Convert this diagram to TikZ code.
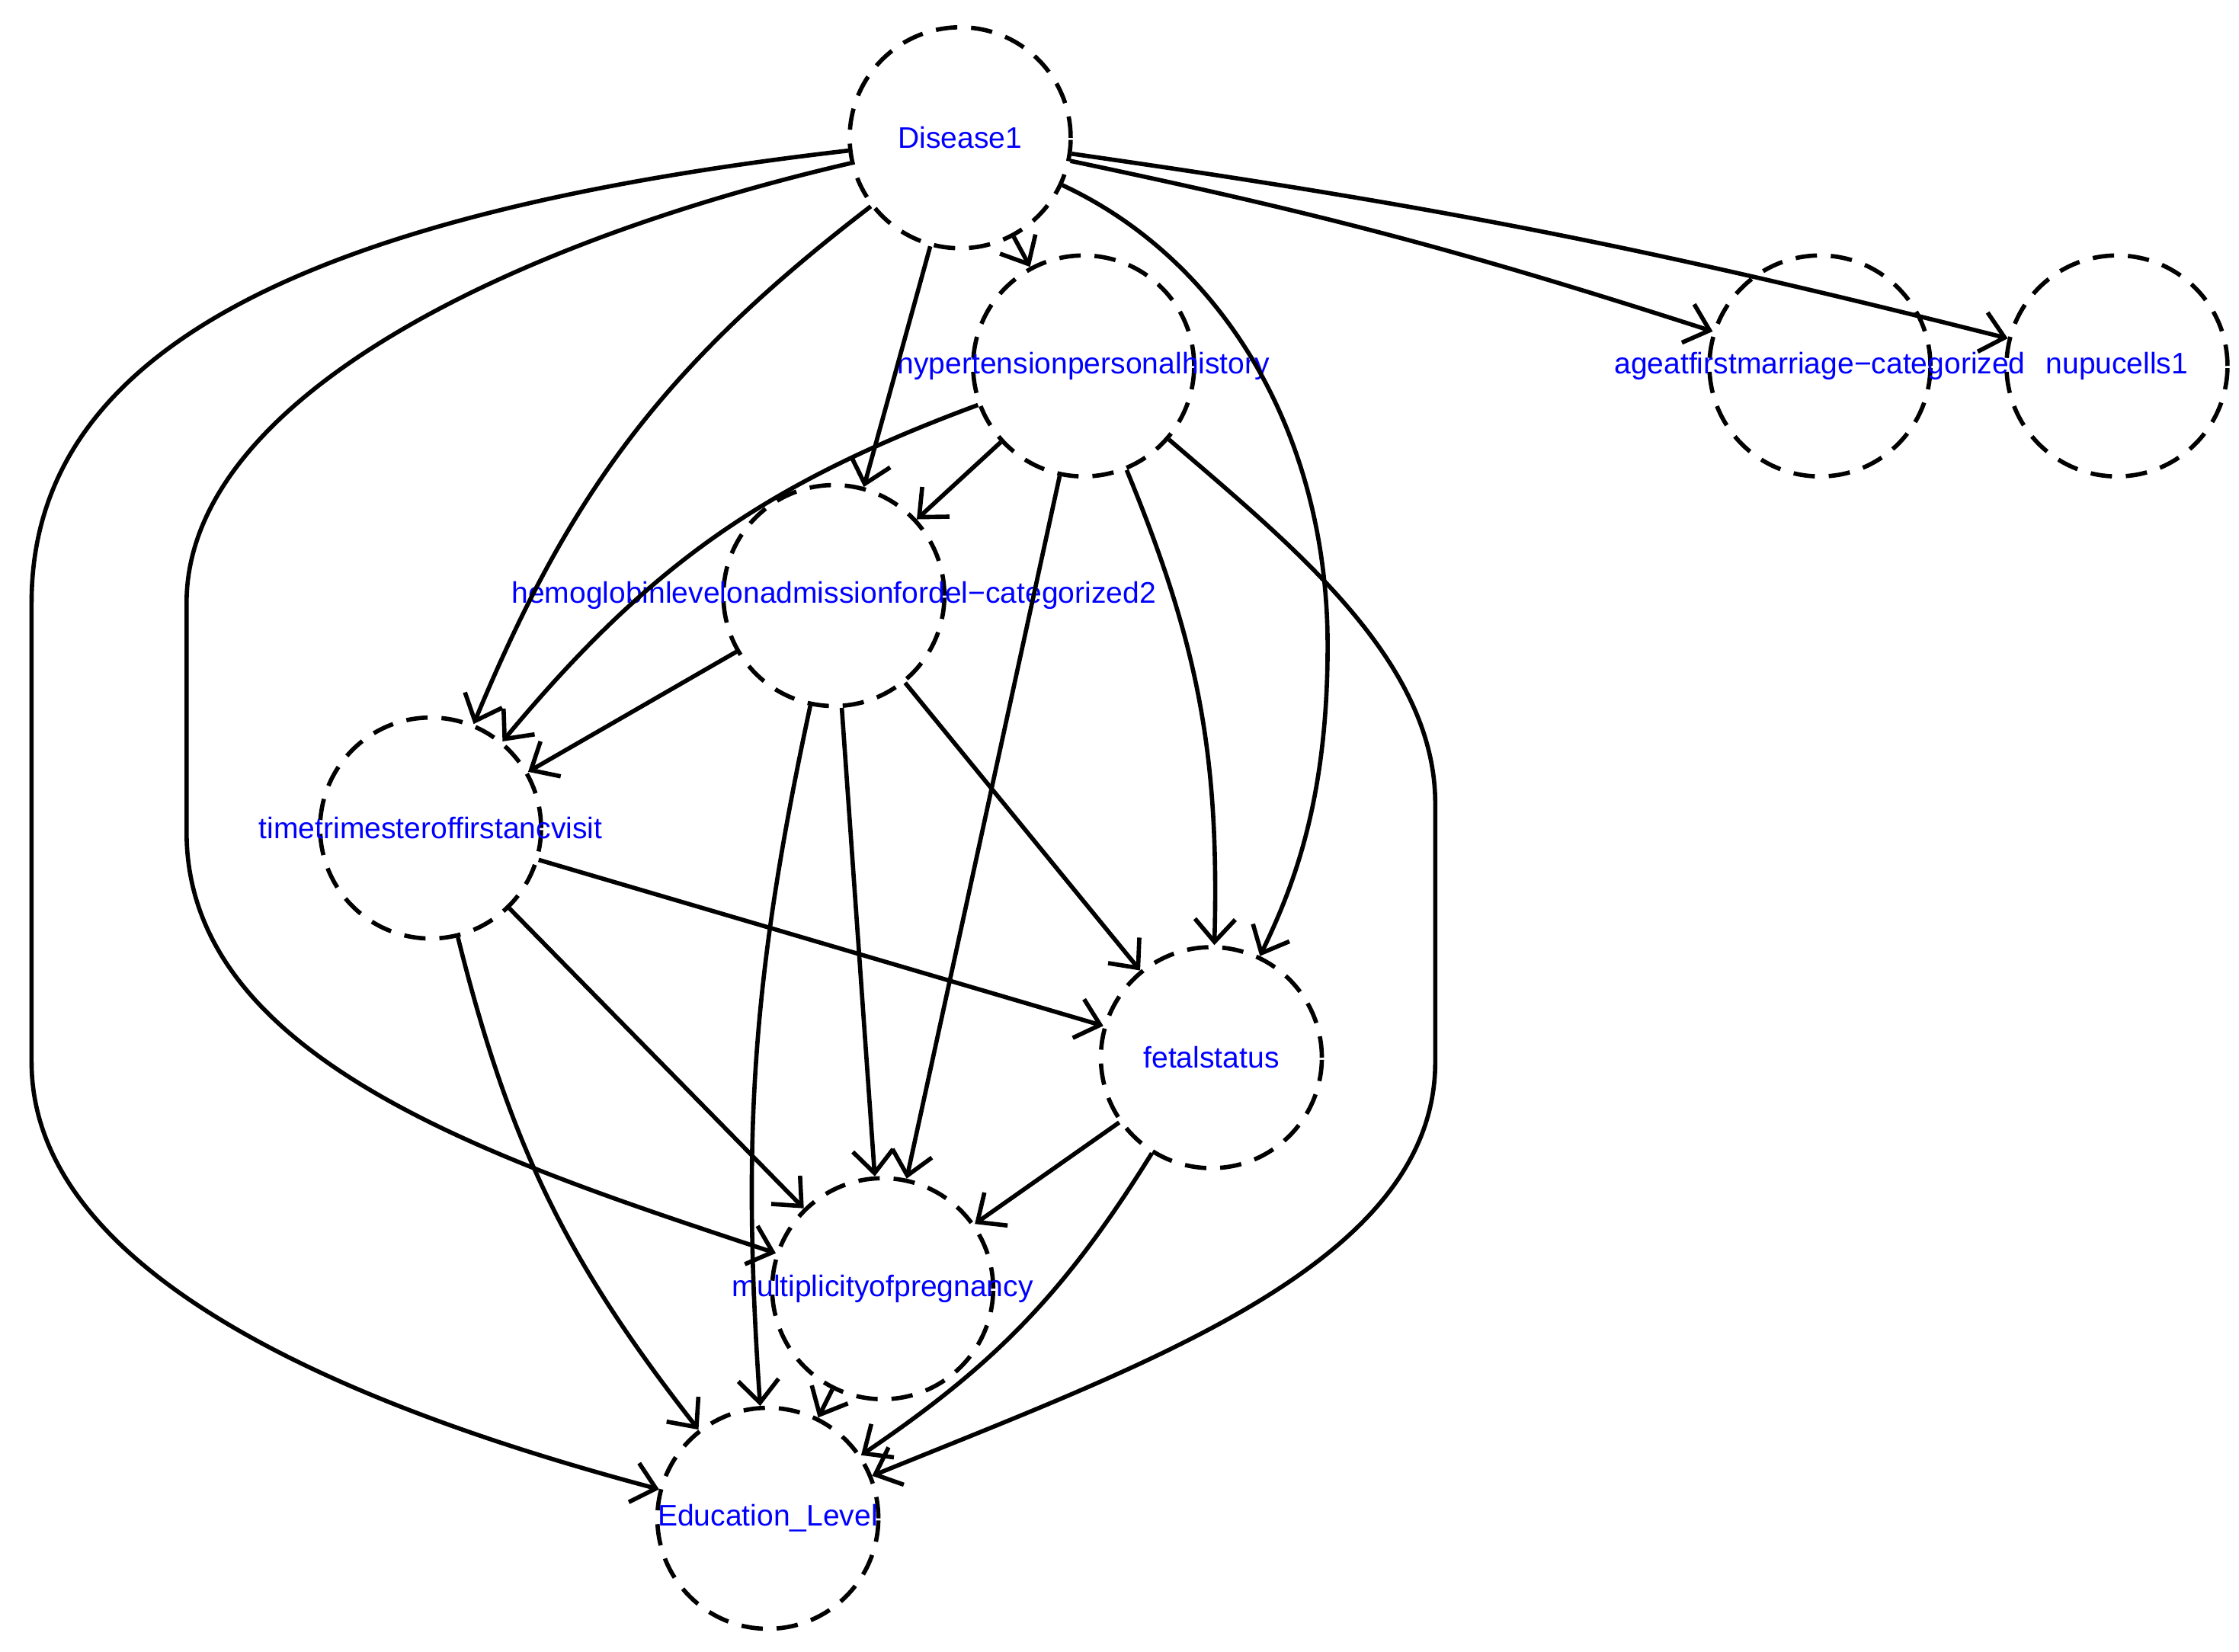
\documentclass[tikz,border=0pt]{standalone}
\usepackage{fontspec}
\setmainfont{Liberation Sans}
\usetikzlibrary{arrows.meta}
\begin{document}
\begin{tikzpicture}[x=0.02cm,y=-0.02cm,
  vnode/.style={circle,draw,line width=1.7pt,dash pattern=on 8.5pt off 5.5pt,minimum size=3.08cm,inner sep=0pt},
  vlab/.style={text=blue,font=\fontsize{11.8}{14}\selectfont},
  edge/.style={line width=1.7pt,-{Straight Barb[length=9pt,width=16pt,line width=1.7pt]}}]
\useasboundingbox (0,0) rectangle (1560,1151);
\def\mk#1#2#3#4{\node[vnode] (#1) at (#2,#3) {}; \node[vlab] at (#2,#3) {#4};}
\mk{D}{669}{96}{Disease1}
\mk{H}{755}{255}{hypertensionpersonalhistory}
\mk{A}{1268}{255}{ageatfirstmarriage−categorized}
\mk{N}{1475}{255}{nupucells1}
\mk{G}{581}{415}{hemoglobinlevelonadmissionfordel−categorized2}
\mk{T}{300}{577}{timetrimesteroffirstancvisit}
\mk{F}{844}{737}{fetalstatus}
\mk{M}{615}{898}{multiplicityofpregnancy}
\mk{E}{535}{1058}{Education\_Level}
\draw[edge] (D) .. controls (200,150) and (22,250) .. (22,420) -- (22,740) .. controls (22,900) and (280,990) .. (E);
\draw[edge] (D) .. controls (350,170) and (130,280) .. (130,420) -- (130,580) .. controls (130,740) and (350,810) .. (M);
\draw[edge] (D) to[bend right=15] (T);
\draw[edge] (D) -- (G);
\draw[edge] (D) -- (H);
\draw[edge] (D) .. controls (850,180) and (925,300) .. (925,450) .. controls (925,560) and (900,620) .. (F);
\draw[edge] (D) to[bend left=3] (A);
\draw[edge] (D) to[bend left=3] (N);
\draw[edge] (H) to[bend right=15] (T);
\draw[edge] (H) -- (G);
\draw[edge] (H) -- (M);
\draw[edge] (H) to[bend left=12] (F);
\draw[edge] (H) .. controls (900,380) and (1000,460) .. (1000,560) -- (1000,740) .. controls (1000,880) and (800,950) .. (E);
\draw[edge] (G) -- (T);
\draw[edge] (G) -- (M);
\draw[edge] (G) to[bend right=8] (E);
\draw[edge] (G) -- (F);
\draw[edge] (T) -- (F);
\draw[edge] (T) -- (M);
\draw[edge] (T) to[bend right=12] (E);
\draw[edge] (F) -- (M);
\draw[edge] (F) to[bend left=12] (E);
\draw[edge] (M) -- (E);
\end{tikzpicture}
\end{document}
